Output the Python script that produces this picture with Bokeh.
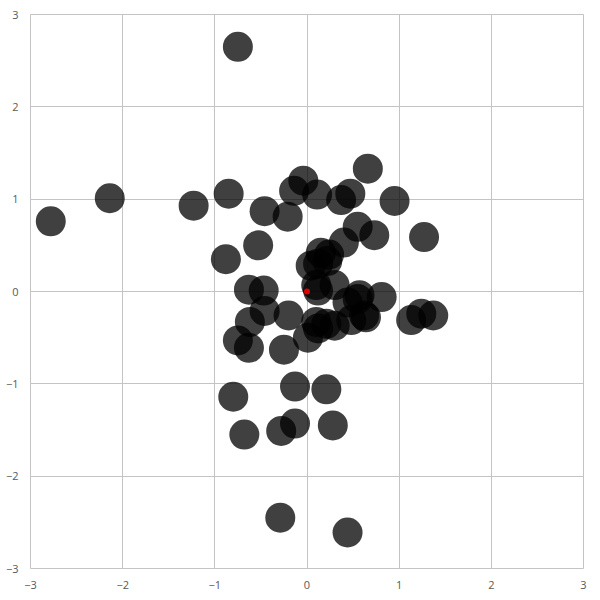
from bokeh.plotting import figure
from bokeh.models import Range1d, FixedTicker, ColumnDataSource
from bokeh.embed import file_html
from bokeh.resources import INLINE

# Data points (x, y)
xs = [-0.75, -2.78, -2.14, -1.23, -0.85, -0.46, -0.21, -0.53, -0.88,
      -0.04, -0.14, 0.11, 0.37, 0.47, 0.66, 0.95, 0.55, 0.73, 0.40, 1.27,
      -0.63, -0.47, -0.62, -0.46, -0.20, -0.75, -0.63, -0.25,
      -0.80, -0.68, -0.13, 0.21, -0.28, -0.13, 0.28, -0.29, 0.44,
      1.13, 1.24, 1.37, 0.81,
      0.15, 0.24, 0.22, 0.04, 0.12, 0.10, 0.30, 0.12,
      0.55, 0.44, 0.62, 0.64, 0.48, 0.30, 0.21, 0.12, 0.01, 0.10, 0.57]
ys = [2.65, 0.76, 1.01, 0.93, 1.06, 0.87, 0.81, 0.50, 0.35,
      1.20, 1.09, 1.05, 0.99, 1.06, 1.33, 0.98, 0.70, 0.61, 0.53, 0.59,
      0.02, 0.01, -0.33, -0.21, -0.26, -0.53, -0.61, -0.63,
      -1.14, -1.55, -1.03, -1.06, -1.51, -1.43, -1.45, -2.45, -2.61,
      -0.31, -0.24, -0.26, -0.06,
      0.42, 0.40, 0.33, 0.28, 0.30, 0.07, 0.07, 0.01,
      -0.08, -0.12, -0.26, -0.28, -0.31, -0.37, -0.35, -0.40, -0.50, -0.33, -0.04]
center_x = [0.0]
center_y = [0.0]
ticks = [-3, -2, -1, 0, 1, 2, 3]

p = figure(frame_width=553, frame_height=554, output_backend="svg",
           toolbar_location=None, x_range=Range1d(-3, 3), y_range=Range1d(-3, 3),
           min_border_left=30, min_border_right=8, min_border_top=14, min_border_bottom=24)
p.background_fill_color = "white"
p.border_fill_color = "white"
p.outline_line_color = "#c4c4c4"
p.outline_line_width = 1

for ax in (p.xaxis, p.yaxis):
    ax.ticker = FixedTicker(ticks=ticks)
    ax.axis_line_color = None
    ax.major_tick_line_color = None
    ax.minor_tick_line_color = None
    ax.major_tick_out = 0
    ax.major_tick_in = 0
    ax.major_label_text_font = "Open Sans"
    ax.major_label_text_font_size = "11px"
    ax.major_label_text_color = "#595959"
p.yaxis.major_label_standoff = 12
p.xaxis.major_label_standoff = 12

for g in (p.xgrid, p.ygrid):
    g.ticker = FixedTicker(ticks=ticks)
    g.grid_line_color = "#c4c4c4"
    g.grid_line_width = 1

src = ColumnDataSource(dict(x=xs, y=ys))
p.scatter("x", "y", source=src, size=30, fill_color="black", fill_alpha=0.75,
          line_color=None)
p.scatter(center_x, center_y, size=6, fill_color="#e00000", line_color=None)

open("out.html", "w").write(file_html(p, INLINE))
